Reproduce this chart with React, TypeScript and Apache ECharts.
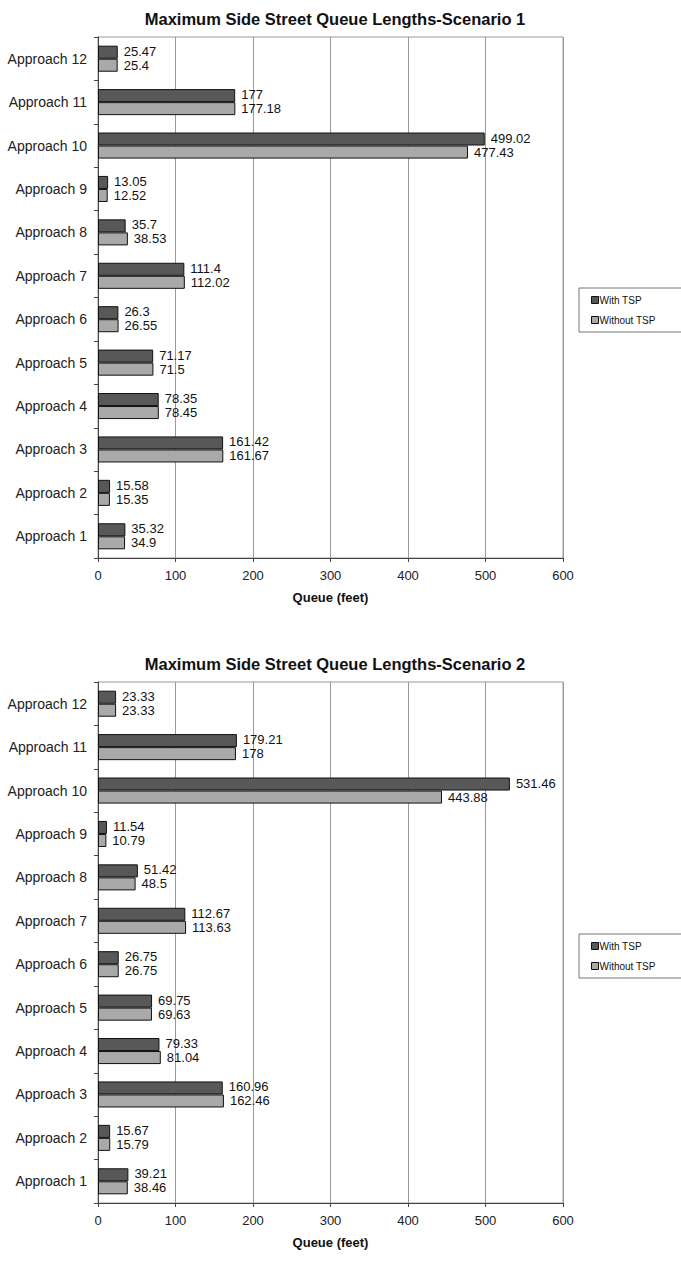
import React, { useEffect, useRef } from "react";
import * as echarts from "echarts";

const categories = [
  "Approach 1", "Approach 2", "Approach 3", "Approach 4", "Approach 5", "Approach 6",
  "Approach 7", "Approach 8", "Approach 9", "Approach 10", "Approach 11", "Approach 12",
];
const s1With = [35.32, 15.58, 161.42, 78.35, 71.17, 26.3, 111.4, 35.7, 13.05, 499.02, 177, 25.47];
const s1Without = [34.9, 15.35, 161.67, 78.45, 71.5, 26.55, 112.02, 38.53, 12.52, 477.43, 177.18, 25.4];
const s2With = [39.21, 15.67, 160.96, 79.33, 69.75, 26.75, 112.67, 51.42, 11.54, 531.46, 179.21, 23.33];
const s2Without = [38.46, 15.79, 162.46, 81.04, 69.63, 26.75, 113.63, 48.5, 10.79, 443.88, 178, 23.33];
const titles = ["Maximum Side Street Queue Lengths-Scenario 1", "Maximum Side Street Queue Lengths-Scenario 2"];
const seriesNames = ["With TSP", "Without TSP"];
const axisName = "Queue (feet)";

const FONT = "'Liberation Sans', Arial, sans-serif";
const DARK = "#585858";
const LIGHT = "#a9a9a9";

export default function App() {
  const ref = useRef<HTMLDivElement>(null);
  useEffect(() => {
    document.body.style.margin = "0";
    const chart = echarts.init(ref.current!, null, { renderer: "svg" });
    const gridTops = [37, 682];
    const gridH = 521;
    const titleTops = [5, 650];
    const legendTops = [288, 934];
    const datasets = [
      [s1With, s1Without],
      [s2With, s2Without],
    ];
    const grids: any[] = [];
    const xAxes: any[] = [];
    const yAxes: any[] = [];
    const series: any[] = [];
    const title: any[] = [];
    const legends: any[] = [];
    [0, 1].forEach((i) => {
      grids.push({
        left: 98, top: gridTops[i], width: 465, height: gridH,
        show: true, borderColor: "#9a9a9a", borderWidth: 1, backgroundColor: "#fff",
      });
      title.push({
        text: titles[i], left: 330, textAlign: "center", top: titleTops[i],
        textStyle: { fontFamily: FONT, fontSize: 16.5, fontWeight: "bold", color: "#111" },
      });
      xAxes.push({
        type: "value", gridIndex: i, min: 0, max: 600, interval: 100,
        name: axisName, nameLocation: "middle", nameGap: 33,
        nameTextStyle: { fontFamily: FONT, fontSize: 13, fontWeight: "bold", color: "#111" },
        axisLine: { show: true, lineStyle: { color: "#444", width: 1 } },
        axisTick: { show: true, length: 4, lineStyle: { color: "#444" } },
        axisLabel: { fontFamily: FONT, fontSize: 13, color: "#222", margin: 11 },
        splitLine: { show: true, lineStyle: { color: "#9a9a9a", width: 1 } },
      });
      yAxes.push({
        type: "category", gridIndex: i, data: categories,
        axisLine: { show: true, lineStyle: { color: "#444", width: 1 } },
        axisTick: { show: true, length: 4, alignWithLabel: false, lineStyle: { color: "#444" } },
        axisLabel: { fontFamily: FONT, fontSize: 14, color: "#222", margin: 11 },
      });
      const [w, wo] = datasets[i];
      series.push({
        name: seriesNames[0], type: "bar", xAxisIndex: i, yAxisIndex: i, data: w,
        barCategoryGap: "40%", barGap: "0%",
        itemStyle: { color: DARK, borderColor: "#111", borderWidth: 1 },
        label: {
          show: true, position: "right", distance: 6, offset: [0, -1],
          fontFamily: FONT, fontSize: 13, lineHeight: 13, color: "#111",
        },
      });
      series.push({
        name: seriesNames[1], type: "bar", xAxisIndex: i, yAxisIndex: i, data: wo,
        barCategoryGap: "40%", barGap: "0%",
        itemStyle: { color: LIGHT, borderColor: "#111", borderWidth: 1 },
        label: {
          show: true, position: "right", distance: 6, offset: [0, 0],
          fontFamily: FONT, fontSize: 13, lineHeight: 13, color: "#111",
        },
      });
      legends.push({
        data: seriesNames, orient: "vertical", left: 579, top: legendTops[i],
        padding: [7, 30, 7, 12], itemGap: 10, itemWidth: 7, itemHeight: 7,
        icon: "rect", borderColor: "#777", borderWidth: 1,
        textStyle: { fontFamily: FONT, fontSize: 10, color: "#111", padding: [0, 0, 0, -4] },
        itemStyle: { borderColor: "#111", borderWidth: 1 },
      });
    });
    chart.setOption({
      animation: false,
      backgroundColor: "#fff",
      title, grid: grids, xAxis: xAxes, yAxis: yAxes, series, legend: legends,
    });
    return () => chart.dispose();
  }, []);
  return <div ref={ref} style={{ width: 681, height: 1266 }} />;
}
